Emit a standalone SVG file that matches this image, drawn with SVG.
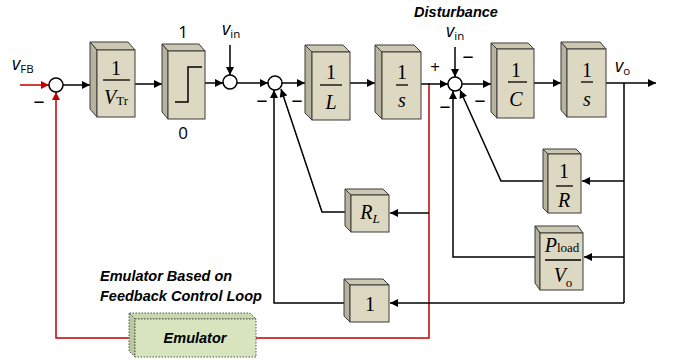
<svg xmlns="http://www.w3.org/2000/svg" width="673" height="360" viewBox="0 0 673 360">
<style>
.f{fill:#ddd8c1;stroke:#3a3a3a;stroke-width:1}
.s{fill:#b7b39d;stroke:#3a3a3a;stroke-width:1}
.t{fill:#ccc7b0;stroke:#3a3a3a;stroke-width:1}
.ef{fill:#d7e4bd;stroke:#555;stroke-width:1;stroke-dasharray:1.5 1.5}
.es{fill:#b9c99d;stroke:#555;stroke-width:1;stroke-dasharray:1.5 1.5}
.et{fill:#c9d8ad;stroke:#555;stroke-width:1;stroke-dasharray:1.5 1.5}
.sum{fill:#fff;stroke:#000;stroke-width:1.5}
.w{fill:none;stroke:#000;stroke-width:1.5}
.r{fill:none;stroke:#c00000;stroke-width:1.5}
.fl{stroke:#000;stroke-width:1.3}
.m{font-family:"Liberation Serif",serif;font-size:20px;fill:#000;text-anchor:middle}
.i{font-style:italic}
.sub{font-size:13px}
.lb{font-family:"Open Sans","Liberation Sans",sans-serif;font-size:18px;fill:#000}
.mi{font-family:"Open Sans","Liberation Sans",sans-serif;font-size:22px;fill:#000;text-anchor:middle}
.pl{font-family:"Open Sans","Liberation Sans",sans-serif;font-size:17px;fill:#000;text-anchor:middle}
.ls{font-family:"Open Sans","Liberation Sans",sans-serif;font-size:11.5px;fill:#000}
.bi{font-family:"Liberation Sans",sans-serif;font-weight:bold;font-style:italic;font-size:14.5px;fill:#000}
</style>
<defs>
<marker id="a" viewBox="0 0 10 10" refX="10" refY="5" markerWidth="9" markerHeight="8" markerUnits="userSpaceOnUse" orient="auto"><path d="M0,0 L10,5 L0,10 z" fill="#000"/></marker>
<marker id="ar" viewBox="0 0 10 10" refX="10" refY="5" markerWidth="9" markerHeight="8" markerUnits="userSpaceOnUse" orient="auto"><path d="M0,0 L10,5 L0,10 z" fill="#c00000"/></marker>
</defs>

<g id="connectors">
<path class="r" d="M20,85 H49" marker-end="url(#ar)"/>
<path class="r" d="M129,338 H56 V92" marker-end="url(#ar)"/>
<path class="r" d="M429,83 V338 H256"/>
<path class="w" d="M63,85 H90" marker-end="url(#a)"/>
<path class="w" d="M135,84 H162" marker-end="url(#a)"/>
<path class="w" d="M205,83 H223" marker-end="url(#a)"/>
<path class="w" d="M230,45 V75" marker-end="url(#a)"/>
<path class="w" d="M237,83 H268" marker-end="url(#a)"/>
<path class="w" d="M282,83 H305" marker-end="url(#a)"/>
<path class="w" d="M350,83 H375" marker-end="url(#a)"/>
<path class="w" d="M421,84 H448" marker-end="url(#a)"/>
<path class="w" d="M455,47 V77" marker-end="url(#a)"/>
<path class="w" d="M462,84 H491" marker-end="url(#a)"/>
<path class="w" d="M534,83 H561" marker-end="url(#a)"/>
<path class="w" d="M606,83 H656" marker-end="url(#a)"/>
<path class="w" d="M624,83 V303"/>
<path class="w" d="M624,181 H582" marker-end="url(#a)"/>
<path class="w" d="M624,257 H584" marker-end="url(#a)"/>
<path class="w" d="M624,303 H390" marker-end="url(#a)"/>
<path class="w" d="M344,303 H274 V90" marker-end="url(#a)"/>
<path class="w" d="M345,212 H322 L281,89" marker-end="url(#a)"/>
<path class="w" d="M429,213 H390" marker-end="url(#a)"/>
<path class="w" d="M543,181 H501 L460,90" marker-end="url(#a)"/>
<path class="w" d="M535,257 H453 V91" marker-end="url(#a)"/>
</g>

<g id="sum1"><circle class="sum" cx="56" cy="85" r="7"/><text class="mi" x="39" y="108">–</text></g>
<g id="sum2"><circle class="sum" cx="230" cy="82" r="7"/></g>
<g id="sum3"><circle class="sum" cx="275" cy="83" r="7"/><text class="mi" x="262" y="107">–</text><text class="mi" x="297" y="107">–</text></g>
<g id="sum4"><circle class="sum" cx="455" cy="84" r="7"/><text class="pl" x="435" y="73">+</text><text class="mi" x="468" y="63" font-size="19" text-anchor="start">–</text><text class="mi" x="445" y="113">–</text><text class="mi" x="480" y="107">–</text></g>

<g id="lbl-vfb"><text class="lb i" x="12" y="70">v<tspan class="ls" font-style="normal" dy="3">FB</tspan></text></g>
<g id="lbl-vin1"><text class="lb i" x="222" y="35">v<tspan class="ls" font-style="normal" dy="3">in</tspan></text></g>
<g id="lbl-dist"><text class="bi" x="456" y="17" text-anchor="middle" font-size="14">Disturbance</text><text class="lb i" x="446" y="37" font-size="17">v<tspan class="ls" font-style="normal" dy="3">in</tspan></text></g>
<g id="lbl-vo"><text class="lb i" x="615" y="72">v<tspan class="ls" font-style="normal" dy="3">o</tspan></text></g>

<g id="b-vtr">
<polygon class="t" points="97,50 90,42 128,42 135,50"/>
<polygon class="s" points="97,50 90,42 90,109 97,117"/>
<rect class="f" x="97" y="50" width="38" height="67"/>
<text class="m" x="116" y="75">1</text>
<line class="fl" x1="103" y1="80" x2="130" y2="80"/>
<text class="m" x="116" y="104"><tspan class="i">V</tspan><tspan class="sub" dy="1">Tr</tspan></text>
</g>

<g id="b-sat">
<polygon class="t" points="168,51 162,44 199,44 205,51"/>
<polygon class="s" points="168,51 162,44 162,112 168,119"/>
<rect class="f" x="168" y="51" width="37" height="68"/>
<path d="M175,102 H188 V67 H202" fill="none" stroke="#000" stroke-width="1.5"/>
<text class="pl" x="183" y="38">1</text>
<text class="pl" x="183" y="139">0</text>
</g>

<g id="b-L">
<polygon class="t" points="312,52 305,45 343,45 350,52"/>
<polygon class="s" points="312,52 305,45 305,113 312,120"/>
<rect class="f" x="312" y="52" width="38" height="68"/>
<text class="m" x="331" y="79">1</text>
<line class="fl" x1="320" y1="85" x2="342" y2="85"/>
<text class="m i" x="331" y="109">L</text>
</g>

<g id="b-s1">
<polygon class="t" points="382,52 375,45 414,45 421,52"/>
<polygon class="s" points="382,52 375,45 375,112 382,119"/>
<rect class="f" x="382" y="52" width="39" height="67"/>
<text class="m" x="402" y="79">1</text>
<line class="fl" x1="396" y1="85" x2="408" y2="85"/>
<text class="m i" x="402" y="107">s</text>
</g>

<g id="b-C">
<polygon class="t" points="497,49 491,43 528,43 534,49"/>
<polygon class="s" points="497,49 491,43 491,112 497,118"/>
<rect class="f" x="497" y="49" width="37" height="69"/>
<text class="m" x="516" y="77">1</text>
<line class="fl" x1="508" y1="82" x2="527" y2="82"/>
<text class="m i" x="516" y="106">C</text>
</g>

<g id="b-s2">
<polygon class="t" points="567,49 561,42 600,42 606,49"/>
<polygon class="s" points="567,49 561,42 561,110 567,117"/>
<rect class="f" x="567" y="49" width="39" height="68"/>
<text class="m" x="587" y="77">1</text>
<line class="fl" x1="581" y1="82" x2="593" y2="82"/>
<text class="m i" x="587" y="106">s</text>
</g>

<g id="b-RL">
<polygon class="t" points="351,195 345,189 383,189 389,195"/>
<polygon class="s" points="351,195 345,189 345,226 351,232"/>
<rect class="f" x="351" y="195" width="38" height="37"/>
<text class="m" x="370" y="219"><tspan class="i">R</tspan><tspan class="sub i" dy="4">L</tspan></text>
</g>

<g id="b-R">
<polygon class="t" points="548,154 543,149 576,149 581,154"/>
<polygon class="s" points="548,154 543,149 543,208 548,213"/>
<rect class="f" x="548" y="154" width="33" height="59"/>
<text class="m" x="564" y="178">1</text>
<line class="fl" x1="556" y1="186" x2="573" y2="186"/>
<text class="m i" x="564" y="207">R</text>
</g>

<g id="b-P">
<polygon class="t" points="540,233 535,226 578,226 583,233"/>
<polygon class="s" points="540,233 535,226 535,283 540,290"/>
<rect class="f" x="540" y="233" width="43" height="57"/>
<text class="m" x="562" y="252"><tspan class="i">P</tspan><tspan class="sub">load</tspan></text>
<line class="fl" x1="545" y1="260" x2="581" y2="260"/>
<text class="m" x="563" y="282"><tspan class="i">V</tspan><tspan class="sub" dy="5">o</tspan></text>
</g>

<g id="b-1">
<polygon class="t" points="350,285 344,279 383,279 389,285"/>
<polygon class="s" points="350,285 344,279 344,316 350,322"/>
<rect class="f" x="350" y="285" width="39" height="37"/>
<text class="m" x="370" y="311">1</text>
</g>

<g id="b-emu">
<polygon class="et" points="135,319 129,313 250,313 256,319"/>
<polygon class="es" points="135,319 129,313 129,351 135,357"/>
<rect class="ef" x="135" y="319" width="121" height="38"/>
<text class="bi" x="195" y="343" text-anchor="middle" font-size="15.5">Emulator</text>
</g>

<g id="lbl-emu">
<text class="bi" x="100" y="281">Emulator Based on</text>
<text class="bi" x="100" y="301">Feedback Control Loop</text>
</g>
</svg>
